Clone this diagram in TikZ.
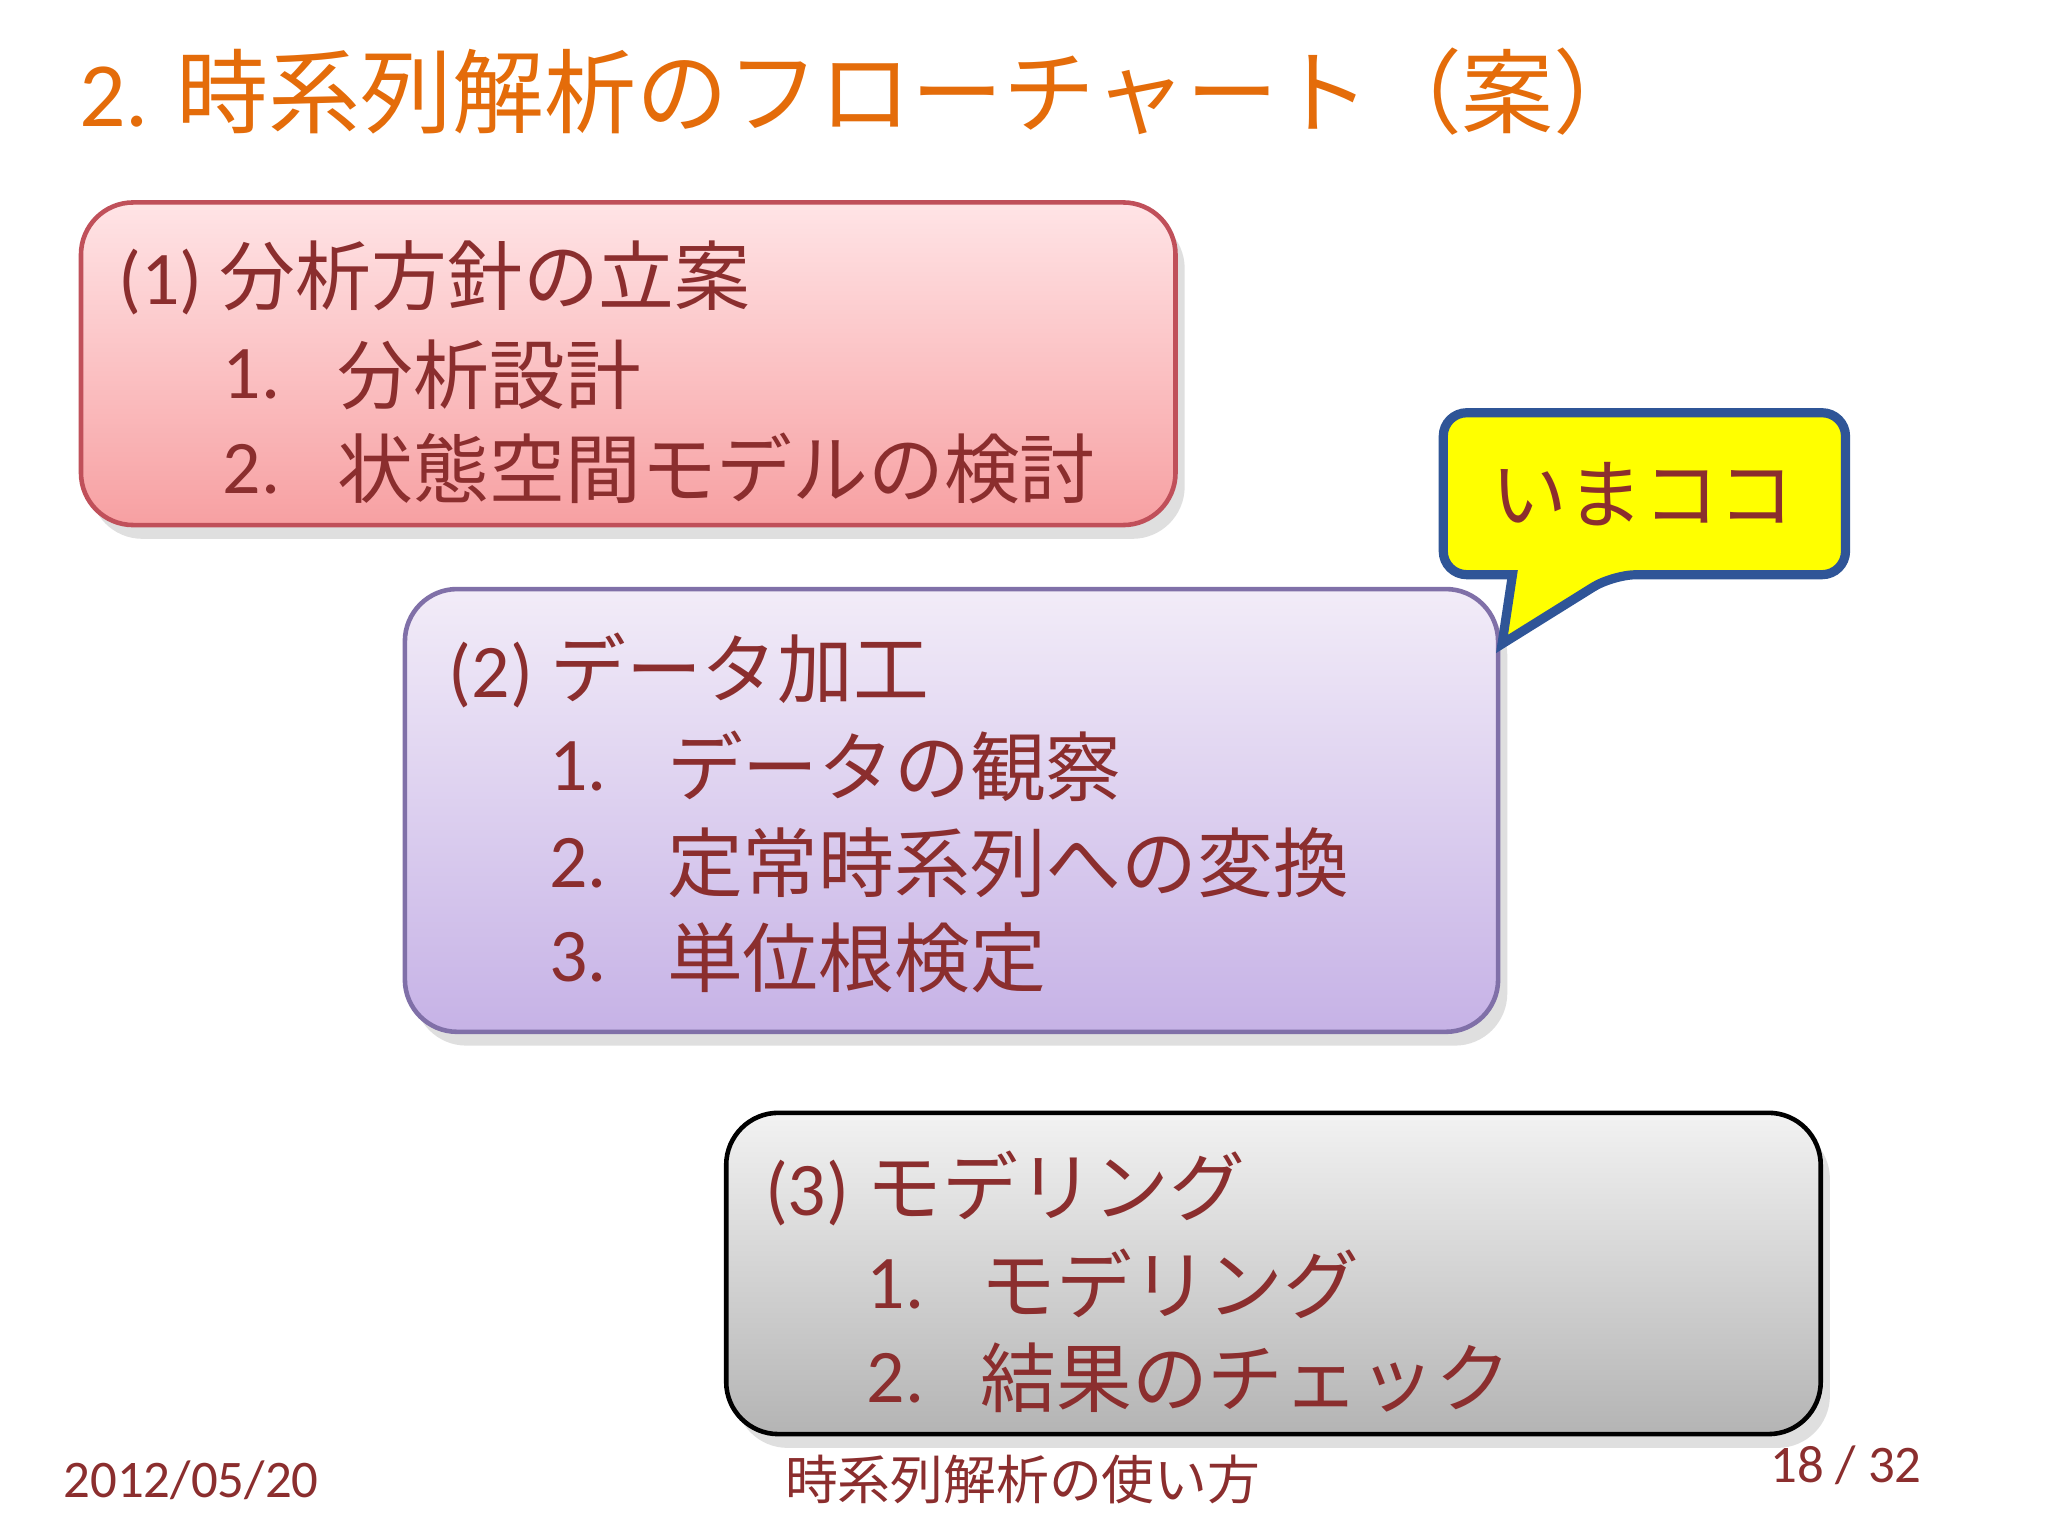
\documentclass[tikz,border=0pt]{standalone}
\usepackage{fontspec}
\setmainfont{Carlito}
\newfontfamily\jp{Noto Sans CJK JP}
\usetikzlibrary{shadows}
\definecolor{txt}{HTML}{8B2E2E}
\definecolor{ttl}{HTML}{E46C0A}
\definecolor{pkB}{HTML}{C0505A}\definecolor{pkT}{HTML}{FFE4E6}\definecolor{pkL}{HTML}{F7A0A2}
\definecolor{lvB}{HTML}{8070A8}\definecolor{lvT}{HTML}{F2ECF8}\definecolor{lvL}{HTML}{C6B2E6}
\definecolor{gyT}{HTML}{F2F2F2}\definecolor{gyL}{HTML}{B4B4B4}
\definecolor{blu}{HTML}{2F5597}\definecolor{yel}{HTML}{FFFF00}
\begin{document}
\begin{tikzpicture}[x=0.01cm,y=-0.01cm,
  box/.style={rounded corners=0.4cm,line width=1pt,drop shadow={opacity=0.25,shadow xshift=2pt,shadow yshift=-3pt}},
  t/.style={anchor=west,text=txt,font=\fontsize{16.5}{20}\selectfont,inner sep=0},
  f/.style={text=txt,font=\fontsize{11.5}{14}\selectfont,inner sep=0}]
\useasboundingbox[fill=white] (0,0) rectangle (1568,1176);
\node[anchor=west,text=ttl,font=\fontsize{20}{24}\selectfont,inner sep=0] (title) at (60,70) {2. {\jp 時系列解析のフローチャート（案）}};
% box 1
\path[box,draw=pkB,top color=pkT,bottom color=pkL] (62,155) rectangle (900,402);
\node[t] (h1) at (90,213) {(1) {\jp 分析方針の立案}};
\node[t] (a1) at (170,287) {1.};\node[t] (a1t) at (258,287) {\jp 分析設計};
\node[t] (a2) at (170,359) {2.};\node[t] (a2t) at (258,359) {\jp 状態空間モデルの検討};
% box 2
\path[box,draw=lvB,top color=lvT,bottom color=lvL] (310,451) rectangle (1147,790);
\node[t] (h2) at (343,513) {(2) {\jp データ加工}};
\node[t] (b1) at (420,587) {1.};\node[t] (b1t) at (510,587) {\jp データの観察};
\node[t] (b2) at (420,661) {2.};\node[t] (b2t) at (510,661) {\jp 定常時系列への変換};
\node[t] (b3) at (420,733) {3.};\node[t] (b3t) at (510,733) {\jp 単位根検定};
% box 3
\path[box,draw=black,top color=gyT,bottom color=gyL] (556,852) rectangle (1394,1098);
\node[t] (h3) at (585,910) {(3) {\jp モデリング}};
\node[t] (c1) at (663,983) {1.};\node[t] (c1t) at (750,983) {\jp モデリング};
\node[t] (c2) at (663,1055) {2.};\node[t] (c2t) at (750,1055) {\jp 結果のチェック};
% callout
\draw[line width=2pt,draw=blu,fill=yel,rounded corners=0.18cm]
  (1105,316) -- (1413,316) -- (1413,440) -- (1235,440) [sharp corners]-- (1150,493) -- (1158,440) [rounded corners=0.18cm] -- (1105,440) -- cycle;
\node[text=txt,font=\fontsize{16.5}{20}\jp,inner sep=0] (now) at (1258,378) {いまココ};
% footer
\node[f,anchor=west] (date) at (48,1133) {2012/05/20};
\node[f] (foot) at (783,1133) {\jp 時系列解析の使い方};
\node[f,anchor=east] (pg) at (1472,1122) {18 / 32};
\end{tikzpicture}
\end{document}
